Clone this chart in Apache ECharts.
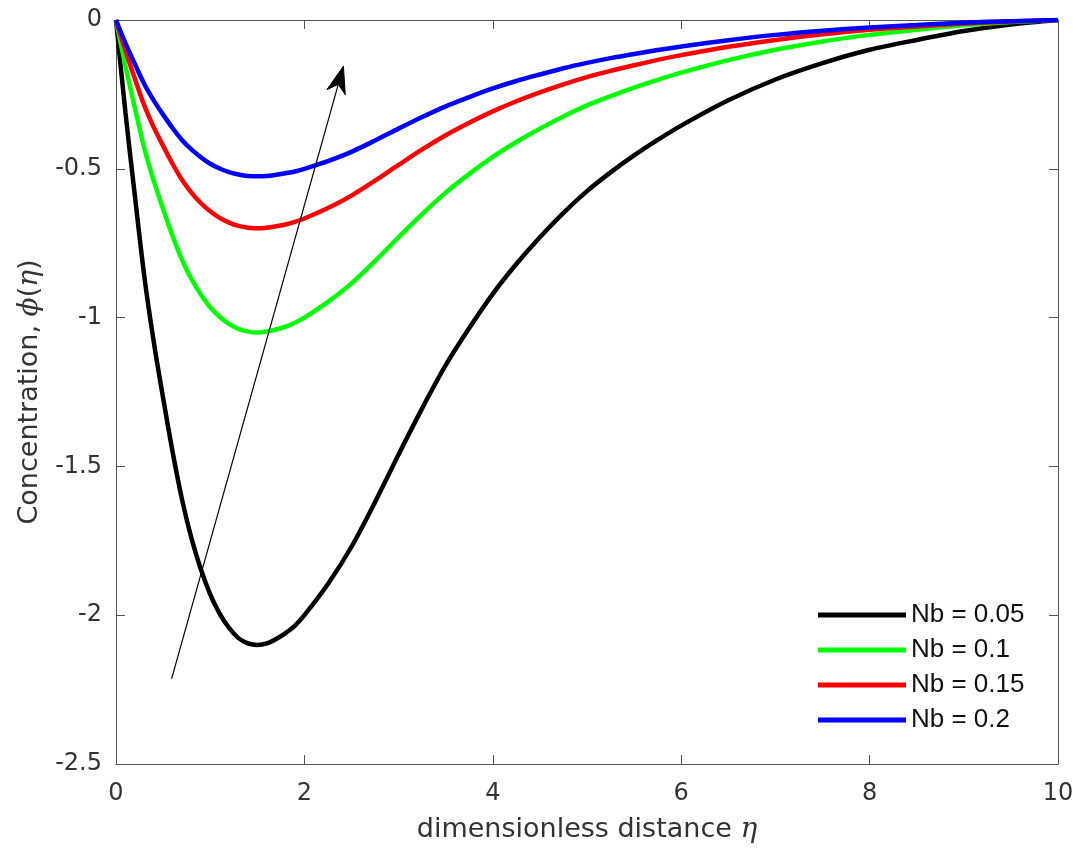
<!DOCTYPE html>
<html>
<head>
<meta charset="utf-8">
<script src="https://cdn.jsdelivr.net/npm/echarts@6/dist/echarts.min.js"></script>
<style>
  html, body { margin: 0; padding: 0; background: #ffffff; }
  #chart { width: 1079px; height: 859px; }
</style>
</head>
<body>
<div id="chart"></div>
<script>
// Dimensionless distance eta
const eta = [0, 0.1, 0.2, 0.3, 0.4, 0.5, 0.6, 0.7, 0.8, 0.9, 1.0, 1.1, 1.2, 1.3, 1.4, 1.5, 1.6, 1.7, 1.8, 1.9, 2.0,
  2.25, 2.5, 2.75, 3.0, 3.25, 3.5, 3.75, 4.0, 4.25, 4.5, 4.75, 5.0, 5.25, 5.5, 5.75, 6.0,
  6.5, 7.0, 7.5, 8.0, 8.5, 9.0, 9.5, 10];

// Concentration profiles phi(eta) for each Nb
const phiNb005 = [0, -0.31, -0.59, -0.86, -1.08, -1.27, -1.45, -1.61, -1.74, -1.845, -1.93, -1.995, -2.043, -2.077, -2.095, -2.10, -2.095, -2.08, -2.06, -2.035, -2.0,
  -1.895, -1.77, -1.62, -1.46, -1.305, -1.16, -1.035, -0.92, -0.82, -0.73, -0.648, -0.575, -0.512, -0.455, -0.403, -0.355,
  -0.27, -0.2, -0.145, -0.1, -0.067, -0.037, -0.015, 0];
const phiNb01 = [0, -0.155, -0.295, -0.43, -0.54, -0.635, -0.725, -0.805, -0.87, -0.922, -0.965, -0.997, -1.021, -1.038, -1.047, -1.05, -1.047, -1.04, -1.03, -1.017, -1.0,
  -0.947, -0.885, -0.81, -0.73, -0.652, -0.58, -0.517, -0.46, -0.41, -0.365, -0.324, -0.287, -0.256, -0.227, -0.201, -0.177,
  -0.135, -0.1, -0.072, -0.05, -0.033, -0.018, -0.007, 0];
const phiNb015 = [0, -0.103, -0.197, -0.287, -0.36, -0.423, -0.483, -0.537, -0.58, -0.615, -0.643, -0.665, -0.681, -0.692, -0.698, -0.70, -0.698, -0.693, -0.687, -0.678, -0.667,
  -0.632, -0.59, -0.54, -0.487, -0.435, -0.387, -0.345, -0.307, -0.273, -0.243, -0.216, -0.192, -0.171, -0.152, -0.134, -0.118,
  -0.09, -0.067, -0.048, -0.033, -0.022, -0.012, -0.005, 0];
const phiNb02 = [0, -0.078, -0.148, -0.215, -0.27, -0.318, -0.363, -0.403, -0.435, -0.461, -0.483, -0.499, -0.511, -0.519, -0.524, -0.525, -0.524, -0.52, -0.515, -0.509, -0.5,
  -0.474, -0.443, -0.405, -0.365, -0.326, -0.29, -0.259, -0.23, -0.205, -0.183, -0.162, -0.144, -0.128, -0.114, -0.101, -0.089,
  -0.068, -0.05, -0.036, -0.025, -0.017, -0.009, -0.004, 0];

const seriesNames = ['Nb = 0.05', 'Nb = 0.1', 'Nb = 0.15', 'Nb = 0.2'];
const seriesValues = [phiNb005, phiNb01, phiNb015, phiNb02];
const seriesColors = ['#000000', '#00ff00', '#ff0000', '#0000ff'];

// Arrow showing the direction of increasing Nb: tail and tip in data coordinates
const arrowFrom = [0.59, -2.214];
const arrowTo = [2.414, -0.155];

const xTicks = { min: 0, max: 10, interval: 2 };
const yTicks = { min: -2.5, max: 0, interval: 0.5 };

const axisColor = '#555555';
const textColor = '#333333';
const tickFont = 'DejaVu Sans';

function pairs(xs, ys) { return xs.map((x, i) => [x, ys[i]]); }

const series = seriesNames.map((name, k) => ({
  name: name,
  type: 'line',
  data: pairs(eta, seriesValues[k]),
  symbol: 'none',
  smooth: 0.3,
  lineStyle: { color: seriesColors[k], width: 4.5 },
  itemStyle: { color: seriesColors[k] },
  z: 2 + k
}));

const baseAxis = {
  splitLine: { show: false },
  axisLine: { show: true, onZero: false, lineStyle: { color: axisColor, width: 1 } },
  axisTick: { show: true, inside: true, length: 9, lineStyle: { color: axisColor, width: 1 } },
};

const option = {
  backgroundColor: '#ffffff',
  animation: false,
  grid: { left: 116, right: 21, top: 20, bottom: 95, containLabel: false },
  legend: {
    data: seriesNames,
    orient: 'vertical',
    left: 818,
    top: 602,
    padding: 0,
    itemWidth: 88,
    itemHeight: 26,
    itemGap: 9,
    icon: 'path://M0,0H88V5H0Z',
    textStyle: { fontFamily: 'Liberation Sans', fontSize: 26, color: '#111111' }
  },
  xAxis: [
    Object.assign({}, baseAxis, {
      type: 'value', position: 'bottom', min: xTicks.min, max: xTicks.max, interval: xTicks.interval,
      axisLabel: { show: true, margin: 18, fontFamily: tickFont, fontSize: 24, color: textColor },
      name: '{r|dimensionless distance }{i|η}',
      nameLocation: 'middle',
      nameGap: 52,
      nameTextStyle: {
        rich: {
          r: { fontFamily: tickFont, fontSize: 27, color: textColor },
          i: { fontFamily: 'DejaVu Serif', fontStyle: 'italic', fontSize: 28, color: textColor }
        }
      }
    }),
    Object.assign({}, baseAxis, {
      type: 'value', position: 'top', min: xTicks.min, max: xTicks.max, interval: xTicks.interval,
      axisLabel: { show: false }
    })
  ],
  yAxis: [
    Object.assign({}, baseAxis, {
      type: 'value', position: 'left', min: yTicks.min, max: yTicks.max, interval: yTicks.interval,
      axisLabel: { show: true, margin: 14, fontFamily: tickFont, fontSize: 24, color: textColor },
      name: '{r|Concentration, }{i|ϕ}{r|(}{i|η}{r|)}',
      nameLocation: 'middle',
      nameGap: 72,
      nameRotate: 90,
      nameTextStyle: {
        rich: {
          r: { fontFamily: tickFont, fontSize: 27, color: textColor },
          i: { fontFamily: 'DejaVu Serif', fontStyle: 'italic', fontSize: 28, color: textColor }
        }
      }
    }),
    Object.assign({}, baseAxis, {
      type: 'value', position: 'right', min: yTicks.min, max: yTicks.max, interval: yTicks.interval,
      axisLabel: { show: false }
    })
  ],
  series: series
};

const chart = echarts.init(document.getElementById('chart'));
chart.setOption(option);

// Annotation arrow: shaft plus notched head, placed through the grid's scales
function drawArrow() {
  const p0 = chart.convertToPixel({ gridIndex: 0 }, arrowFrom);
  const p1 = chart.convertToPixel({ gridIndex: 0 }, arrowTo);
  const dx = p1[0] - p0[0], dy = p1[1] - p0[1];
  const len = Math.sqrt(dx * dx + dy * dy);
  const ux = dx / len, uy = dy / len;      // along the shaft
  const nx = -uy, ny = ux;                  // normal to the shaft
  const headLen = 27, headHalf = 9.5, notch = 19;
  const back = [p1[0] - ux * headLen, p1[1] - uy * headLen];
  const mid = [p1[0] - ux * notch, p1[1] - uy * notch];
  chart.setOption({
    graphic: [
      {
        type: 'line', z: 20, silent: true,
        shape: { x1: p0[0], y1: p0[1], x2: mid[0], y2: mid[1] },
        style: { stroke: '#000000', lineWidth: 1.2 }
      },
      {
        type: 'polygon', z: 20, silent: true,
        shape: { points: [
          p1,
          [back[0] + nx * headHalf, back[1] + ny * headHalf],
          mid,
          [back[0] - nx * headHalf, back[1] - ny * headHalf]
        ] },
        style: { fill: '#000000', stroke: '#000000', lineWidth: 1 }
      }
    ]
  });
}
drawArrow();
</script>
</body>
</html>
